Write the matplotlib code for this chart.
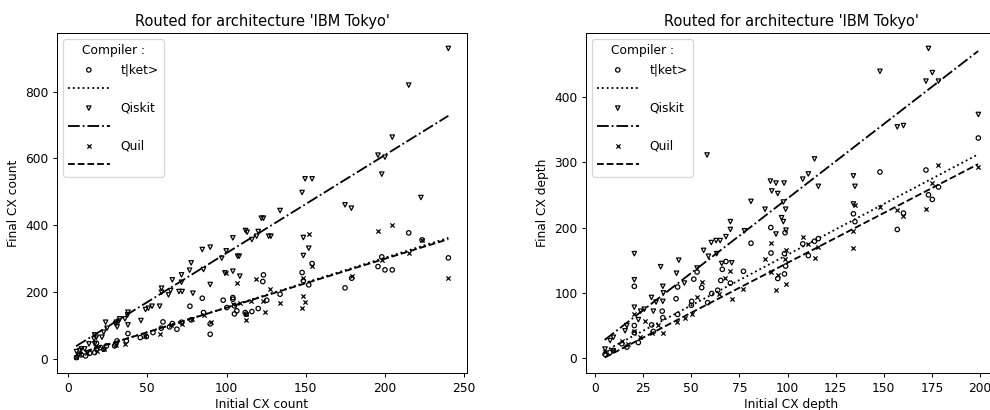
import numpy as np
import matplotlib
matplotlib.use('Agg')
import matplotlib.pyplot as plt

# region data
# left panel : CX count
cnt_tket_x = [240, 215, 223.4, 195.6, 198, 200, 204.6, 174.8, 179, 154, 147.7, 148.5, 151.9, 133.8,
              123.3, 122.9, 125.4, 120, 116, 112.4, 111.8, 105, 104, 104, 97.9, 100.2, 105, 106.5,
              89.7, 89.7, 85.5, 84.7, 76.9, 77.7, 71.6, 65.8, 68.7, 64, 59.9, 58.8, 53.6, 49.4,
              45.6, 37.8, 36.8, 30.9, 30, 29.4, 24.2, 22.5, 17.9, 16.8, 13.7, 11.1, 8.4, 5.3, 17.9, 20.6]
cnt_tket_y = [302, 377, 356, 276, 305, 266, 266, 212, 241, 285, 258, 233, 221, 193,
              251, 231, 175, 150, 141, 133, 138, 158, 183, 178, 175, 153, 134, 143,
              104, 73, 138, 181, 157, 116, 109, 105, 88, 95, 110, 91, 78, 66,
              63, 75, 53, 53, 43, 38, 38, 28, 28, 18, 16, 8, 11, 3, 46, 33]

cnt_qiskit_x = [240, 215, 204.6, 195.6, 200, 198, 222.7, 174.8, 178.8, 149.6, 154, 147.7, 133.8,
                148.5, 151.9, 148.5, 123.3, 122, 112, 113, 120, 116, 119, 126.6, 128, 104, 99.8,
                97, 107, 108, 104, 99, 108.4, 89.7, 84.7, 85.5, 77.7, 76.7, 71.6, 71.6, 65.8,
                89.7, 78.8, 70, 72, 64.7, 59, 59, 63.4, 57.8, 53, 50.7, 48.9, 46, 37.8, 37.6,
                37.8, 35.9, 32.6, 32, 30.5, 30, 31, 24.6, 23.7, 22.5, 21.4, 16.8, 17.9, 16.4,
                16.8, 13.2, 10.5, 8.4, 5.3, 7.4]
cnt_qiskit_y = [930, 820, 664, 610, 604, 553, 483, 461, 451, 539, 539, 498, 444,
                363, 331, 309, 421, 421, 384, 379, 381, 357, 367, 367, 367, 362, 323,
                301, 307, 307, 262, 257, 247, 334, 327, 267, 287, 265, 251, 229, 236,
                222, 196, 201, 201, 204, 211, 199, 191, 157, 157, 151, 147, 114, 139, 131,
                101, 119, 119, 112, 109, 104, 95, 91, 109, 79, 64, 71, 64, 59,
                44, 44, 29, 29, 21, 24]

cnt_quil_x = [240, 204.6, 195.6, 223.4, 215, 198, 179, 151.9, 148.5, 149.8, 147.7, 154, 148.5,
              133.8, 127.4, 124, 118.7, 115.5, 123, 112, 112.4, 106.5, 108.2, 104, 99.8, 90.5,
              85.5, 78.4, 71.6, 65.1, 57.8, 48.7, 36.1, 30, 22.9, 18.3, 17.9, 12, 7.4, 4.8]
cnt_quil_y = [241, 401, 383, 356, 318, 295, 248, 375, 188, 170, 153, 278, 243,
              166, 208, 140, 240, 172, 173, 116, 133, 228, 166, 163, 256, 111,
              131, 120, 103, 101, 73, 68, 45, 40, 28, 23, 38, 18, 13, 6]

# right panel : CX depth
dep_tket_x = [199.1, 148, 171.9, 173.2, 175.2, 178.4, 157, 160.2, 134.2, 135, 114, 116, 110.8,
              107.9, 91.3, 91.4, 94.9, 98.4, 99, 98.4, 98.7, 81, 77.1, 70.3, 68, 66.1, 65.3,
              63.7, 60.6, 58.5, 53, 51.3, 50, 42.9, 42.1, 42.9, 35.2, 34.9, 20.4, 20.4, 20.4,
              29.4, 30.3, 22.5, 16.5, 13.9, 9.5, 7.8, 5.2, 50.2, 55.4]
dep_tket_y = [337, 285, 288, 250, 243, 262, 197, 222, 221, 209, 179, 183, 157,
              175, 200, 161, 122, 129, 141, 160, 192, 176, 133, 115, 148, 136, 119,
              104, 99, 85, 132, 121, 81, 109, 91, 67, 62, 72, 110, 50, 39,
              51, 41, 24, 17, 22, 12, 9, 6, 87, 108]

dep_qiskit_x = [173.2, 148, 171.9, 175.2, 178.4, 199.1, 157, 160.2, 58.2, 114, 110.8, 107.9, 116,
                134.2, 135, 134.2, 91.1, 94, 98.2, 91.8, 94.9, 99, 97.8, 96.9, 97.8, 99.2, 94,
                81, 88.3, 70.3, 70.3, 68, 77.6, 65, 60.4, 56.4, 43.5, 42.3, 34.1, 35.2, 35.5,
                35.2, 20.4, 20.4, 20.4, 29.3, 31.7, 71, 65.8, 58.9, 53, 63.2, 25.6, 23.7, 22.5,
                16.5, 15.6, 9.5, 7.8, 5.2, 30.3, 46.4, 62.9]
dep_qiskit_y = [474, 439, 424, 437, 424, 373, 354, 356, 311, 305, 282, 274, 263,
                279, 263, 236, 271, 268, 268, 256, 252, 228, 239, 215, 209, 196, 190,
                240, 228, 209, 197, 186, 195, 180, 177, 165, 150, 130, 140, 110, 100,
                87, 160, 120, 78, 93, 86, 146, 145, 156, 138, 160, 75, 72, 59,
                50, 42, 32, 27, 14, 72, 115, 180]

dep_quil_x = [199.1, 178.4, 175.2, 171.9, 157, 160.2, 148, 134.2, 134.2, 135, 116, 114, 110.8,
              107.9, 99, 99, 94.2, 91.3, 91.3, 88.3, 98.5, 94.9, 77.1, 71.3, 70.3, 67.5, 64.4,
              55.4, 53, 50.4, 46.6, 42.4, 35.5, 32.9, 29.4, 23.4, 20.4, 20.4, 17, 13.9, 9.5,
              5.2, 26]
dep_quil_y = [293, 295, 268, 228, 227, 217, 232, 194, 168, 234, 170, 153, 175,
              186, 165, 114, 105, 177, 132, 152, 152, 127, 106, 90, 134, 122, 99,
              116, 93, 67, 62, 56, 38, 51, 39, 32, 42, 67, 22, 27, 12,
              9, 57]

# fitted lines (end points)
cnt_fit_x = [5, 240]
cnt_fit_tket = [12, 362]
cnt_fit_qiskit = [37, 728]
cnt_fit_quil = [13, 358]

dep_fit_x = [5, 199]
dep_fit_tket = [11, 312]
dep_fit_qiskit = [28, 470]
dep_fit_quil = [1, 297]

compilers = ['t|ket>', 'Qiskit', 'Quil']
# endregion


# region functions
def draw_panel(ax, series, fit_x, fits, xlabel, ylabel):
    markers = ['o', 'v', 'x']
    styles = [':', '-.', '--']
    handles = []
    labels = []
    for (xs, ys), fy, name, mk, ls in zip(series, fits, compilers, markers, styles):
        if mk == 'x':
            sc = ax.scatter(xs, ys, marker=mk, s=12, c='k', linewidths=1.0, label=name)
        else:
            sc = ax.scatter(xs, ys, marker=mk, s=13, facecolors='none', edgecolors='k',
                            linewidths=1.0, label=name)
        ln, = ax.plot(fit_x, fy, color='k', linestyle=ls, linewidth=1.5)
        handles += [sc, ln]
        labels += [name, '']
    ax.legend(handles, labels, title='Compiler :', loc='upper left', handlelength=3.4,
              handletextpad=0.9, scatterpoints=1)
    ax.set_xlabel(xlabel, labelpad=2.5)
    ax.set_ylabel(ylabel)
    ax.set_title("Routed for architecture 'IBM Tokyo'")


def main():
    dpi = 88
    fig = plt.figure(figsize=(990 / dpi, 410 / dpi), dpi=dpi)
    ax1 = fig.add_axes([0.0576, 0.0902, 0.4141, 0.8293])
    ax2 = fig.add_axes([0.5919, 0.0902, 0.4152, 0.8293])

    draw_panel(ax1,
               [(cnt_tket_x, cnt_tket_y), (cnt_qiskit_x, cnt_qiskit_y), (cnt_quil_x, cnt_quil_y)],
               cnt_fit_x, [cnt_fit_tket, cnt_fit_qiskit, cnt_fit_quil],
               'Initial CX count', 'Final CX count')
    draw_panel(ax2,
               [(dep_tket_x, dep_tket_y), (dep_qiskit_x, dep_qiskit_y), (dep_quil_x, dep_quil_y)],
               dep_fit_x, [dep_fit_tket, dep_fit_qiskit, dep_fit_quil],
               'Initial CX depth', 'Final CX depth')

    fig.savefig('out.png', dpi=dpi)
# endregion


if __name__ == "__main__":
    main()
